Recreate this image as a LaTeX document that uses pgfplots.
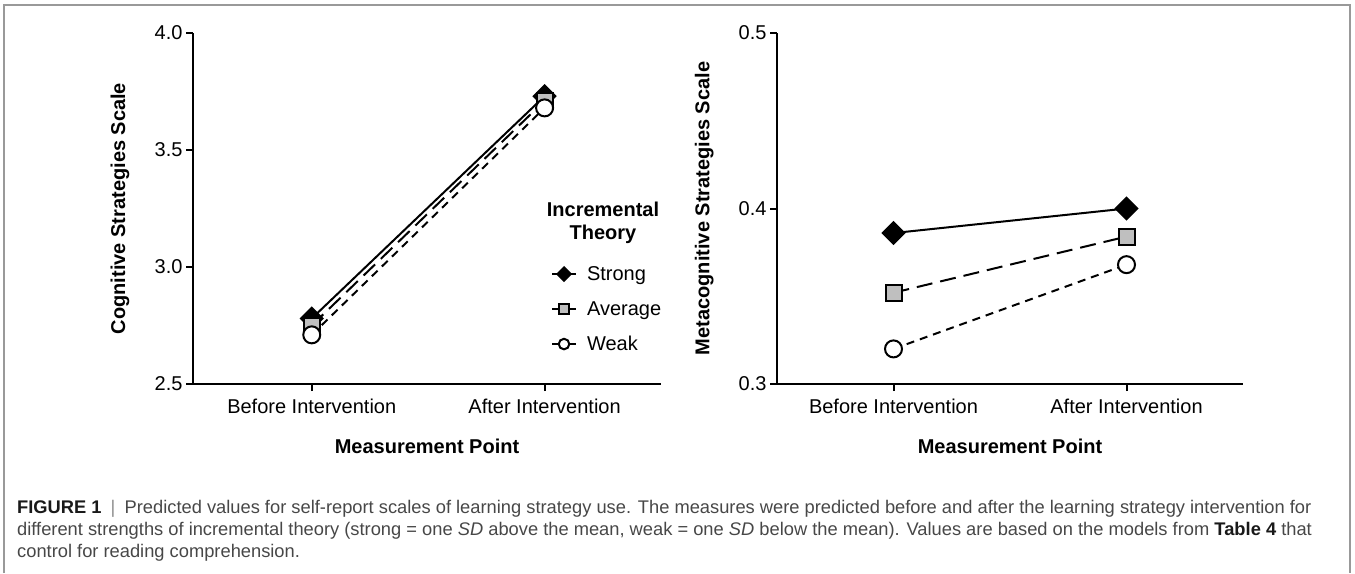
\documentclass[border=0pt]{standalone}
\usepackage{fontspec}
\setmainfont{Liberation Sans}
\usepackage{pgfplots}
\pgfplotsset{compat=1.18}

\definecolor{sqgray}{gray}{0.75}
\definecolor{framegray}{gray}{0.6}
\definecolor{captext}{gray}{0.28}

\newcommand{\chartfont}{\fontsize{20}{24}\selectfont}

\pgfplotsset{
  myaxis/.style={
    scale only axis,
    anchor=south west,
    clip=false,
    axis x line*=bottom,
    axis y line*=left,
    axis line style={line width=2pt, -},
    xtick={0,1},
    xticklabels={Before Intervention, After Intervention},
    tick align=outside,
    major tick length=7pt,
    tick style={line width=2pt, black},
    every tick label/.append style={font=\chartfont},
    xticklabel style={yshift=-4pt},
    /pgf/number format/assume math mode=true,
    yticklabel style={/pgf/number format/.cd, fixed, fixed zerofill, precision=1},
    every axis x label/.style={at={(axis description cs:0.5,-0.1766)}, anchor=center, font=\chartfont\bfseries},
    every axis y label/.style={at={(axis description cs:-0.156,0.5)}, rotate=90, anchor=center, font=\chartfont\bfseries},
  },
  strongstyle/.style={black, line width=2pt, mark=square*, mark size=7.6pt,
    mark options={rotate=45, fill=black, solid}},
  avgstyle/.style={black, line width=2pt, dash pattern=on 16pt off 8pt, mark=square*, mark size=8pt,
    mark options={fill=sqgray, solid}},
  weakstyle/.style={black, line width=2pt, dash pattern=on 8pt off 6pt, mark=*, mark size=8.5pt,
    mark options={fill=white, solid}},
}

\begin{document}
\begin{tikzpicture}[x=1pt,y=1pt]
\path (0,0) rectangle (1355,573);
\draw[framegray, line width=1.2pt] (4,0) -- (4,568) -- (1350,568) -- (1350,0);

% Left panel
\begin{axis}[myaxis,
  at={(193pt,189pt)}, width=468pt, height=351pt,
  xmin=-0.51, xmax=1.5, ymin=2.5, ymax=4.0,
  ytick={2.5,3.0,3.5,4.0},
  xlabel={Measurement Point},
  ylabel={Cognitive Strategies Scale},
  legend cell align=left,
  legend style={at={(axis description cs:0.765,0.336)}, anchor=north west,
    draw=none, fill=none, inner sep=0pt, outer sep=0pt, row sep=19pt,
    font=\chartfont,
    nodes={inner sep=0pt, text height=14pt, text depth=2pt}},
  legend image code/.code={%
    \draw[line width=2pt, solid] (0pt,0pt) -- (24pt,0pt);
    \draw[mark repeat=2, mark phase=2, #1, solid, every mark/.append style={scale=0.62}] plot coordinates {(0pt,0pt) (12pt,0pt) (24pt,0pt)};
    \path (34pt,0pt);},
]
\addplot[strongstyle] coordinates {(0,2.78) (1,3.73)};
\addlegendentry{Strong}
\addplot[avgstyle] coordinates {(0,2.75) (1,3.71)};
\addlegendentry{Average}
\addplot[weakstyle] coordinates {(0,2.71) (1,3.68)};
\addlegendentry{Weak}
\end{axis}

\node[font=\fontsize{20}{23}\selectfont\bfseries, align=center, inner sep=0pt] at (603,350.5) {Incremental\\Theory};

% Right panel
\begin{axis}[myaxis,
  at={(777pt,189pt)}, width=466pt, height=351pt,
  xmin=-0.5, xmax=1.5, ymin=0.3, ymax=0.5,
  ytick={0.3,0.4,0.5},
  xlabel={Measurement Point},
  ylabel={Metacognitive Strategies Scale},
]
\addplot[strongstyle] coordinates {(0,0.386) (1,0.400)};
\addplot[avgstyle] coordinates {(0,0.352) (1,0.384)};
\addplot[weakstyle] coordinates {(0,0.320) (1,0.368)};
\end{axis}

% Caption
\begin{scope}[every node/.style={anchor=base west, inner sep=0pt, font=\fontsize{18.3}{22}\selectfont, text=captext}]
\node at (17,60) {\textcolor{black!90}{\bfseries FIGURE 1}\enspace\textcolor{black!45}{|}\enspace Predicted values for self-report scales of learning strategy use. The measures were predicted before and after the learning strategy intervention for};
\node at (17,38) {different strengths of incremental theory (strong = one \textit{SD} above the mean, weak = one \textit{SD} below the mean). Values are based on the models from \textcolor{black!90}{\bfseries Table 4} that};
\node at (17,16) {control for reading comprehension.};
\end{scope}
\end{tikzpicture}
\end{document}
